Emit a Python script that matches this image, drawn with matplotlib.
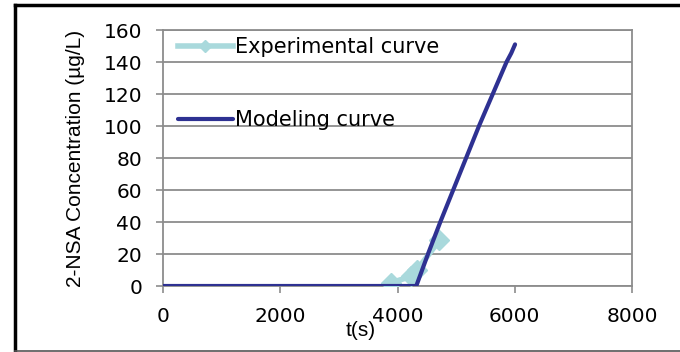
import numpy as np
import matplotlib.pyplot as plt
from matplotlib.lines import Line2D

# experimental points
t_exp = [3890, 4230, 4330, 4715]
c_exp = [2, 6, 10, 28.5]

# modeling curve
t_mod = [0, 4320, 4520, 4730, 4950, 5170, 5390, 5625, 5860, 5940, 6005]
c_mod = [0, 0, 20, 40, 60, 80, 100, 120, 140, 145.5, 151]

xticks = [0, 2000, 4000, 6000, 8000]
yticks = [0, 20, 40, 60, 80, 100, 120, 140, 160]

fig = plt.figure(figsize=(6.8, 3.52), dpi=100)
ax = fig.add_axes([163 / 680, 1 - 286 / 352, 469 / 680, 256 / 352])

ax.plot(t_exp, c_exp, color='#a9d9dc', lw=4, marker='D', ms=10,
        label='Experimental curve', zorder=3)
ax.plot(t_mod, c_mod, color='#2e3192', lw=3.0, label='Modeling curve',
        solid_capstyle='round', solid_joinstyle='round', zorder=4)

ax.set_xlim(0, 8000)
ax.set_ylim(0, 160)
ax.set_xticks(xticks)
ax.set_yticks(yticks)
ax.yaxis.grid(True, color='#8c8c8c', lw=1.3)
ax.set_axisbelow(True)
for s in ax.spines.values():
    s.set_color('#8c8c8c')
    s.set_linewidth(1.3)
ax.tick_params(colors='#8c8c8c', labelcolor='black', labelsize=14.5,
               length=5, width=1.2, direction='out')
ax.tick_params(axis='x', pad=10)
ax.tick_params(axis='y', pad=10)

ax.set_ylabel('2-NSA Concentration (µg/L)', family='Liberation Sans',
              fontsize=15, labelpad=13)
fig.text(361 / 680, 1 - 331 / 352, 't(s)', family='Liberation Sans',
         fontsize=15, ha='center', va='center')

ax.legend(loc='upper left', bbox_to_anchor=(0.0, 1.03), frameon=False,
          fontsize=15, labelspacing=2.55, handlelength=2.65,
          handletextpad=0.1, borderaxespad=0.3, markerscale=0.6)

# outer border
fig.add_artist(Line2D([15 / 680, 15 / 680], [1 / 352, 1 - 5 / 352],
                      color='black', lw=2.5, transform=fig.transFigure))
fig.add_artist(Line2D([15 / 680, 1], [1 - 5 / 352, 1 - 5 / 352],
                      color='black', lw=2.5, transform=fig.transFigure))
fig.add_artist(Line2D([15 / 680, 1], [1 / 352, 1 / 352],
                      color='#555555', lw=1.2, transform=fig.transFigure))

fig.savefig('out.png', dpi=100)
